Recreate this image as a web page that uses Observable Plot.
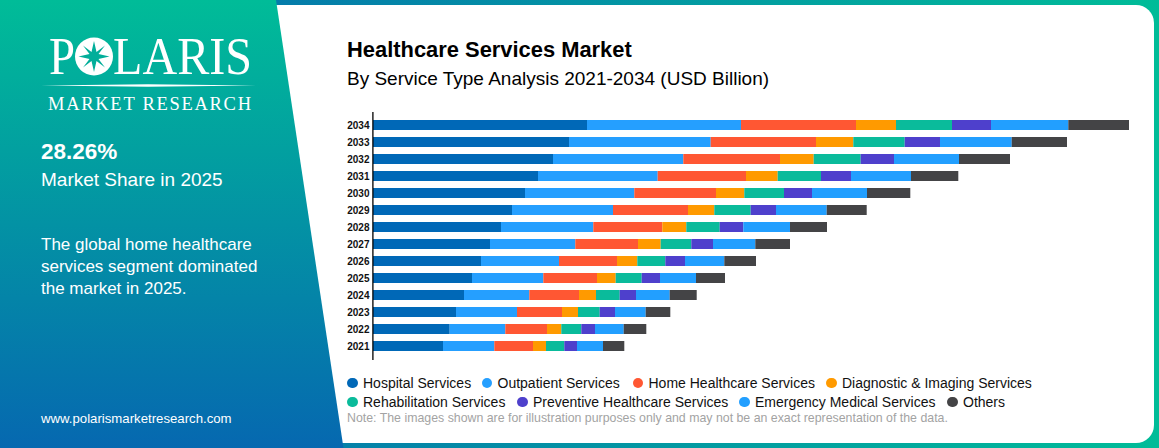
<!DOCTYPE html>
<html><head><meta charset="utf-8">
<script src="https://cdn.jsdelivr.net/npm/d3@7"></script>
<script src="https://cdn.jsdelivr.net/npm/@observablehq/plot@0.6"></script>
<style>
html,body{margin:0;padding:0;width:1159px;height:448px;overflow:hidden;font-family:"Liberation Sans",Arial,sans-serif}
#bg{position:absolute;left:0;top:0;width:1159px;height:448px;background:linear-gradient(90deg,#0668B0 0%,#00BC98 100%)}
#card{position:absolute;left:260px;top:5px;width:894px;height:438px;background:#fff;border-radius:18px}
#side{position:absolute;left:0;top:0;width:345px;height:448px;background:linear-gradient(180deg,#00BC98 0%,#0668B0 100%);clip-path:polygon(0 0,276px 0,343.5px 448px,0 448px)}
.t{position:absolute;white-space:nowrap}
#plot{position:absolute;left:340px;top:100px}
.leg{position:absolute;white-space:nowrap;font-size:14px;color:#111;display:flex;align-items:center}
.leg i{display:inline-block;width:10.5px;height:10.5px;border-radius:50%;margin-right:5.5px}
</style></head><body>
<div id="bg"></div><div id="card"></div><div id="side"></div>
<svg class="t" style="left:0;top:0" width="340" height="125" font-family="'Liberation Serif',serif" fill="#fff">
<text x="49" y="74" font-size="53" textLength="26" lengthAdjust="spacingAndGlyphs">P</text>
<circle cx="94" cy="56.5" r="19"/>
<polygon fill="#02AE9A" points="94,41 96.5,52 105,45.5 98.5,54 109.5,56.5 98.5,59 105,67.5 96.5,61 94,72 91.5,61 83,67.5 89.5,59 78.5,56.5 89.5,54 83,45.5 91.5,52"/>
<text x="113" y="74" font-size="53" textLength="139" lengthAdjust="spacingAndGlyphs">LARIS</text>
<polygon points="41,85.5 148,84.2 256,85.5 148,86.8"/>
<text x="48" y="110" font-size="18.5" textLength="203">MARKET RESEARCH</text>
</svg>
<div class="t" style="left:41px;top:138.5px;font-size:22.5px;font-weight:700;color:#fff">28.26%</div>
<div class="t" style="left:41px;top:169px;font-size:19px;color:#fff">Market Share in 2025</div>
<div class="t" style="left:41px;top:234px;font-size:17px;line-height:22px;color:#fff">The global home healthcare<br>services segment dominated<br>the market in 2025.</div>
<div class="t" style="left:41px;top:411px;font-size:13.2px;color:#fff">www.polarismarketresearch.com</div>
<div class="t" style="left:347px;top:36.5px;font-size:21.9px;font-weight:700;color:#000">Healthcare Services Market</div>
<div class="t" style="left:347px;top:67.5px;font-size:19px;color:#000">By Service Type Analysis 2021-2034 (USD Billion)</div>
<div id="plot"></div>
<div id="legend"></div>
<div class="t" style="left:347px;top:411px;font-size:12.35px;color:#a3a3a3">Note: The images shown are for illustration purposes only and may not be an exact representation of the data.</div>
<script>
const years = [2034,2033,2032,2031,2030,2029,2028,2027,2026,2025,2024,2023,2022,2021];
const services = ["Hospital Services","Outpatient Services","Home Healthcare Services","Diagnostic & Imaging Services","Rehabilitation Services","Preventive Healthcare Services","Emergency Medical Services","Others"];
const colors = ["#0068B7","#259FFF","#FF5733","#FF9A00","#0ABB9B","#4E40CC","#229FFF","#444446"];
// Values, one list per service, same order as years
const hospital   = [214,196,180,165,152,139,128,117,108,99,91,83,76.7,70];
const outpatient = [154,141.7,130.3,119.7,109.3,101,92.3,85.3,78,71.3,65.3,61,55.6,51.3];
const home       = [115,105.3,96.7,88.3,81.7,75,69,62.7,58,53.7,49.7,45,41.7,38.7];
const diagnostic = [40,37.3,33.7,31.7,28.3,26.3,24,22.7,20.3,18.7,17,16,14.3,13];
const rehab      = [56,51.4,47,43.3,39.7,36.4,33.4,30.6,28,26,23.7,21.7,20,18.3];
const preventive = [39,35.3,33.3,30,28,25.3,23.6,21.7,19.7,18.3,16.3,15.3,13.7,12.7];
const emergency  = [77.3,71.7,65,60,55,50.7,46.7,42.3,39.3,36,33.7,30.7,28.7,26];
const others     = [60.7,55.3,51,47.3,43.3,40,37,34.7,31.7,29,27,24.6,22.6,21.3];
const series = [hospital,outpatient,home,diagnostic,rehab,preventive,emergency,others];
const table = series.flatMap((vals,s)=>vals.map((v,i)=>({year:years[i],service:services[s],value:v})));

const chart = Plot.plot({
  width:810, height:260,
  marginLeft:33, marginRight:20, marginTop:12, marginBottom:0,
  style:{background:"transparent",fontFamily:"'Liberation Sans',Arial,sans-serif"},
  x:{domain:[0,757],axis:null},
  y:{domain:years.map(String),paddingInner:0.41,paddingOuter:0.465,label:null},
  color:{domain:services,range:colors},
  marks:[
    Plot.axisY({domain:years.map(String),anchor:"left",tickSize:0,tickPadding:4,label:null,fontSize:10,fontWeight:700,fill:"#111",tickFormat:d=>d}),
    Plot.barX(table,{x:"value",y:d=>String(d.year),fill:"service",order:services}),
    Plot.ruleX([0],{stroke:"#000",strokeWidth:1.3,dx:-0.6})
  ]
});
document.getElementById("plot").appendChild(chart);

const pos=[[347,375],[481.5,375],[632.5,375],[826,375],[347,394],[517,394],[739,394],[947,394]];
const lg=document.getElementById("legend");
services.forEach((s,i)=>{const d=document.createElement("div");d.className="leg";d.style.left=pos[i][0]+"px";d.style.top=pos[i][1]+"px";
 const m=document.createElement("i");m.style.background=colors[i];d.appendChild(m);d.appendChild(document.createTextNode(s));lg.appendChild(d);});
</script>
</body></html>
